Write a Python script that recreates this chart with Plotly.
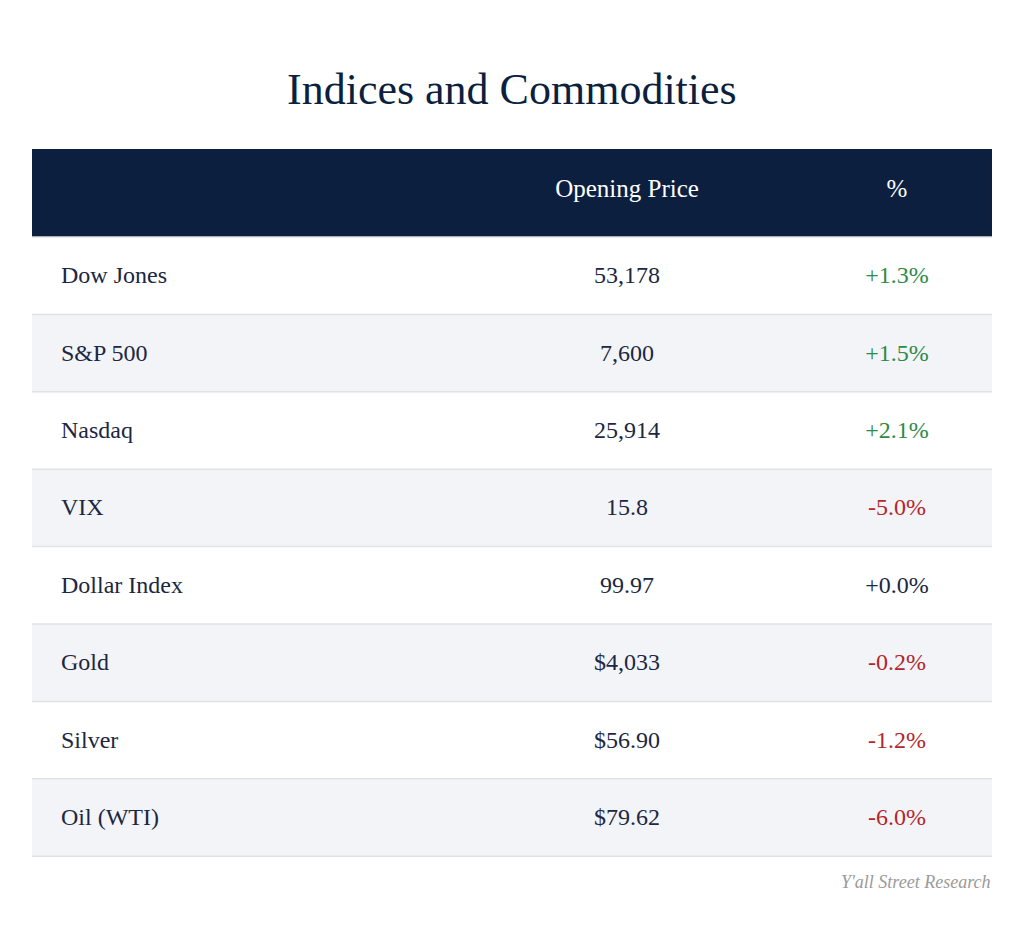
import plotly.graph_objects as go

# Table data
names = ["Dow Jones", "S&P 500", "Nasdaq", "VIX", "Dollar Index", "Gold", "Silver", "Oil (WTI)"]
opening_prices = ["53,178", "7,600", "25,914", "15.8", "99.97", "$4,033", "$56.90", "$79.62"]
pct_changes = [1.3, 1.5, 2.1, -5.0, 0.0, -0.2, -1.2, -6.0]
headers = ["", "", "Opening Price", "%"]

NAVY = "#0c1f3f"
TEXT = "#1c2742"
GREEN = "#2e8b47"
RED = "#b3262b"
ALT = "#f3f4f8"
RULE = "#e1e2e6"

pct_text = [f"{v:+.1f}%" for v in pct_changes]
pct_colors = [GREEN if v > 0 else RED if v < 0 else TEXT for v in pct_changes]
row_fill = ["white" if i % 2 == 0 else ALT for i in range(len(names))]

# page has an 8px body margin, so reference pixel positions are shifted by it
W, H, OFF = 1024, 938, 8
x0, x1 = 32 - OFF, 992 - OFF
top, header_h, row_h = 149 - OFF, 88, 77.4
bottom = top + header_h + row_h * len(names)


def px_y(y):
    return 1 - y / H


def br(items, lead="<span style='font-size:8px'>\u00a0</span><br>"):
    # a small blank first line pushes the text down to the middle of the tall cells
    return [lead + s if s else s for s in items]


fig = go.Figure(go.Table(
    columnwidth=[21, 399, 350, 190],
    domain=dict(x=[x0 / W, x1 / W], y=[px_y(bottom), px_y(top)]),
    header=dict(
        values=br(headers),
        fill_color=NAVY,
        line=dict(width=0),
        align=["left", "left", "center", "center"],
        height=header_h,
        font=dict(family="Liberation Serif", size=25, color="white"),
    ),
    cells=dict(
        values=[[""] * len(names), br(names), br(opening_prices), br(pct_text)],
        fill_color=[row_fill] * 4,
        line=dict(width=0),
        align=["left", "left", "center", "center"],
        height=row_h,
        font=dict(family="Liberation Serif", size=24,
                  color=[TEXT, TEXT, TEXT, pct_colors]),
    ),
))

# thin rules under the header and each row
for i in range(len(names) + 1):
    y = px_y(top + header_h + row_h * i)
    fig.add_shape(type="line", xref="paper", yref="paper",
                  x0=x0 / W, x1=x1 / W, y0=y, y1=y,
                  line=dict(color=RULE, width=1.5))

fig.add_annotation(
    text="Indices and Commodities",
    xref="paper", yref="paper", x=(512 - OFF) / W, y=px_y(90 - OFF),
    showarrow=False, xanchor="center", yanchor="middle",
    font=dict(family="Liberation Serif", size=44, color=NAVY),
)
fig.add_annotation(
    text="<i>Y'all Street Research</i>",
    xref="paper", yref="paper", x=x1 / W, y=px_y(882 - OFF),
    showarrow=False, xanchor="right", yanchor="middle",
    font=dict(family="Liberation Serif", size=18, color="#9a9a9a"),
)

fig.update_layout(
    width=W, height=H,
    margin=dict(l=0, r=0, t=0, b=0),
    paper_bgcolor="white",
    plot_bgcolor="white",
)

fig.write_html("out.html")
